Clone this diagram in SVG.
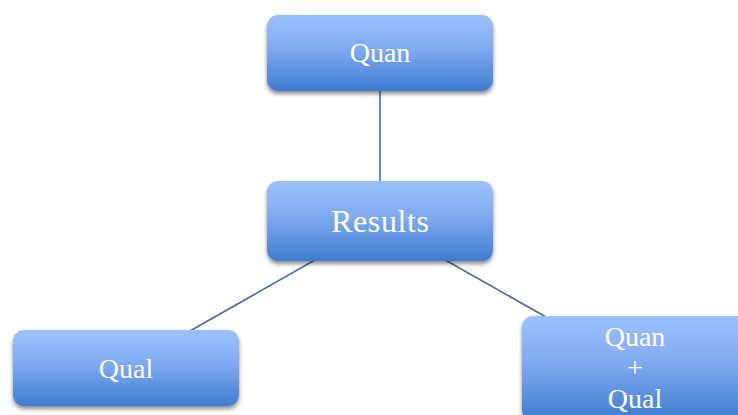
<svg xmlns="http://www.w3.org/2000/svg" width="738" height="415" viewBox="0 0 738 415">
  <defs>
    <linearGradient id="boxFill" x1="0" y1="0" x2="0" y2="1">
      <stop offset="0" stop-color="#9dc1fe"/>
      <stop offset="0.45" stop-color="#80aaf0"/>
      <stop offset="1" stop-color="#3e7ccf"/>
    </linearGradient>
    <filter id="shadow" x="-10%" y="-20%" width="120%" height="150%">
      <feGaussianBlur in="SourceAlpha" stdDeviation="2.2"/>
      <feOffset dx="0" dy="3" result="b"/>
      <feComponentTransfer><feFuncA type="linear" slope="0.45"/></feComponentTransfer>
      <feMerge><feMergeNode/><feMergeNode in="SourceGraphic"/></feMerge>
    </filter>
  </defs>
  <style>
    .box { fill: url(#boxFill); filter: url(#shadow); }
    .lbl { font-family: "Liberation Serif", "DejaVu Serif", serif; fill: #ffffff; text-anchor: middle; }
    .edge { stroke: #4a6b9c; stroke-width: 1.6; fill: none; }
  </style>
  <rect width="738" height="415" fill="#ffffff"/>
  <g id="connectors">
    <line class="edge" x1="380" y1="91" x2="380" y2="182"/>
    <line class="edge" x1="322" y1="256" x2="190" y2="331"/>
    <line class="edge" x1="440" y1="257" x2="546" y2="317"/>
  </g>
  <g id="quan">
    <rect class="box" x="267" y="15" width="226" height="76" rx="11"/>
    <text class="lbl" x="380" y="62" font-size="28">Quan</text>
  </g>
  <g id="results">
    <rect class="box" x="267" y="181" width="226" height="80" rx="11"/>
    <text class="lbl" x="380" y="232" font-size="32" textLength="98">Results</text>
  </g>
  <g id="qual">
    <rect class="box" x="13" y="330" width="226" height="76" rx="11"/>
    <text class="lbl" x="126" y="378" font-size="28">Qual</text>
  </g>
  <g id="quan-qual">
    <rect class="box" x="522" y="316" width="226" height="105" rx="11"/>
    <text class="lbl" x="635" y="346" font-size="28">Quan</text>
    <text class="lbl" x="635" y="377" font-size="28">+</text>
    <text class="lbl" x="635" y="408" font-size="28">Qual</text>
  </g>
</svg>
